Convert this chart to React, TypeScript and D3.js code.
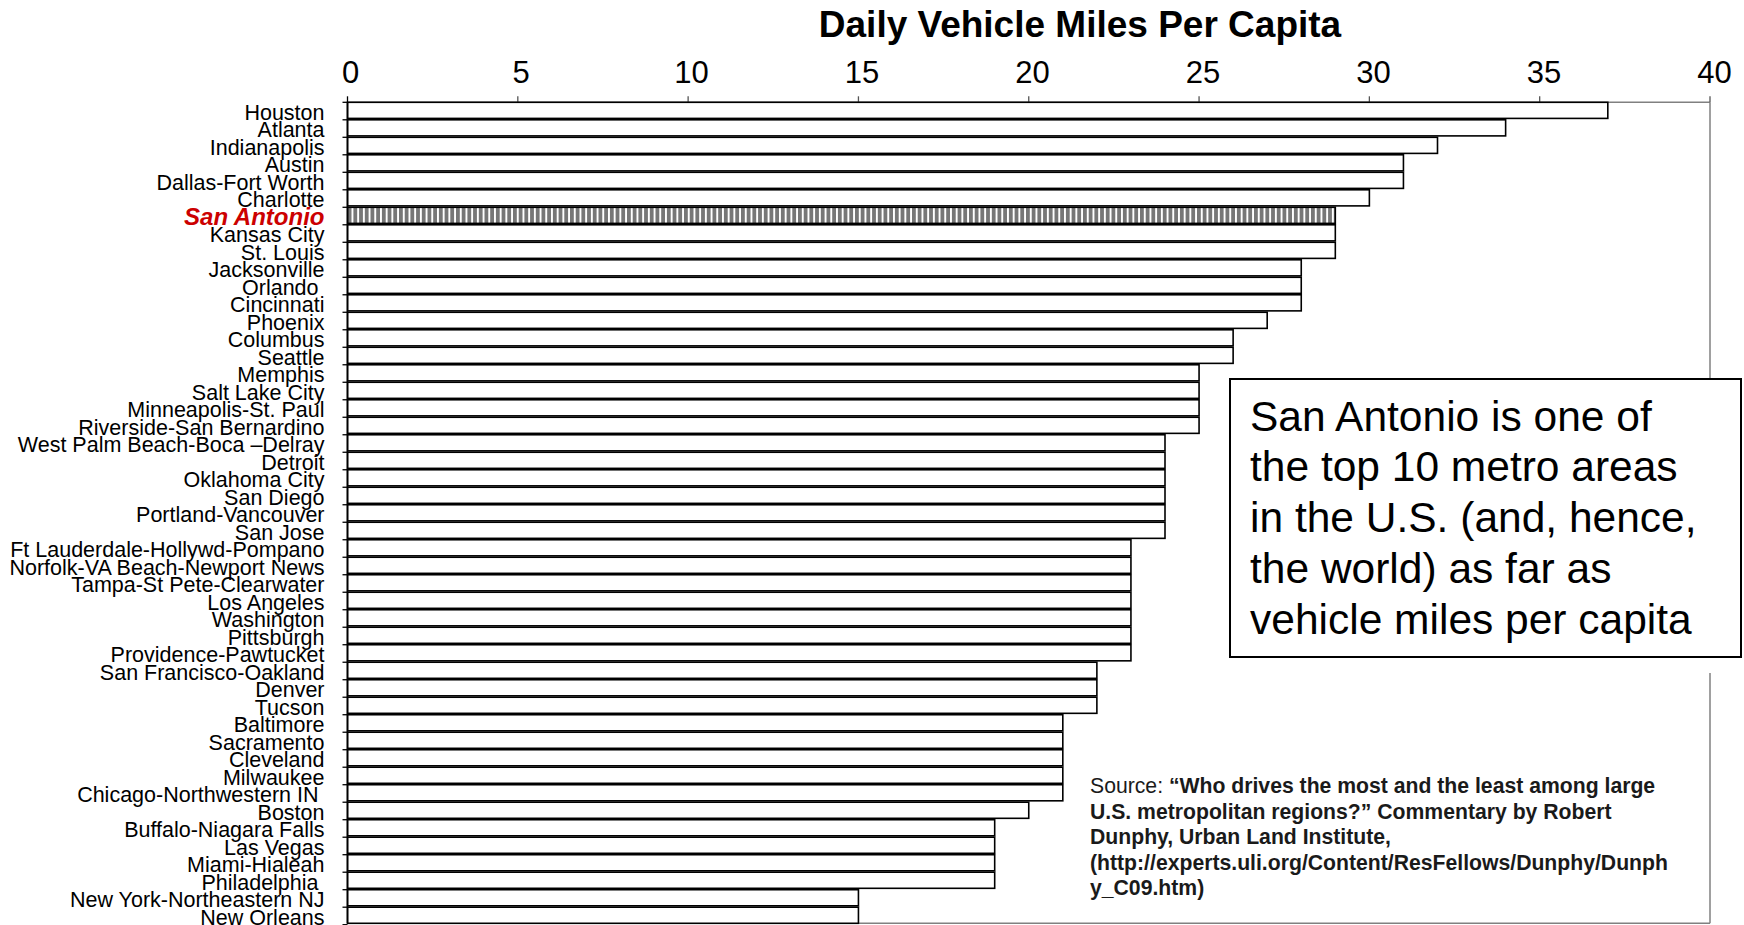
import React from "react";
import * as d3 from "d3";

const cities: string[] = [
  "Houston", "Atlanta", "Indianapolis", "Austin", "Dallas-Fort Worth", "Charlotte",
  "San Antonio", "Kansas City", "St. Louis", "Jacksonville", "Orlando ", "Cincinnati",
  "Phoenix", "Columbus", "Seattle", "Memphis", "Salt Lake City", "Minneapolis-St. Paul",
  "Riverside-San Bernardino", "West Palm Beach-Boca \u2013Delray", "Detroit", "Oklahoma City",
  "San Diego", "Portland-Vancouver", "San Jose", "Ft Lauderdale-Hollywd-Pompano",
  "Norfolk-VA Beach-Newport News", "Tampa-St Pete-Clearwater", "Los Angeles", "Washington",
  "Pittsburgh", "Providence-Pawtucket", "San Francisco-Oakland", "Denver", "Tucson",
  "Baltimore", "Sacramento", "Cleveland", "Milwaukee", "Chicago-Northwestern IN ", "Boston",
  "Buffalo-Niagara Falls", "Las Vegas", "Miami-Hialeah", "Philadelphia ",
  "New York-Northeastern NJ", "New Orleans",
];

const miles: number[] = [
  37, 34, 32, 31, 31, 30, 29, 29, 29, 28, 28, 28, 27, 26, 26, 25, 25, 25, 25,
  24, 24, 24, 24, 24, 24, 23, 23, 23, 23, 23, 23, 23, 22, 22, 22,
  21, 21, 21, 21, 21, 20, 19, 19, 19, 19, 15, 15,
];

const highlight = "San Antonio";
const xTicks: number[] = [0, 5, 10, 15, 20, 25, 30, 35, 40];
const title = "Daily Vehicle Miles Per Capita";
const noteLines: string[] = [
  "San Antonio is one of",
  "the top 10 metro areas",
  "in the U.S. (and, hence,",
  "the world) as far as",
  "vehicle miles per capita",
];
const sourceLines: { normal: string; bold: string }[] = [
  { normal: "Source: ", bold: "\u201cWho drives the most and the least among large" },
  { normal: "", bold: "U.S. metropolitan regions?\u201d Commentary by Robert" },
  { normal: "", bold: "Dunphy, Urban Land Institute," },
  { normal: "", bold: "(http://experts.uli.org/Content/ResFellows/Dunphy/Dunph" },
  { normal: "", bold: "y_C09.htm)" },
];

const W = 1744;
const H = 925;
const FONT = "'Liberation Sans', Arial, Helvetica, sans-serif";

export default function App() {
  const x = d3.scaleLinear().domain([0, 40]).range([347.5, 1710]);
  const xLabel = d3.scaleLinear().domain([0, 40]).range([350.5, 1714.5]);
  const y = d3
    .scaleBand<string>()
    .domain(cities)
    .range([102.3, 923.3])
    .paddingInner(0.08)
    .paddingOuter(0);
  const step = y.step();
  const top = 102.3;
  const bottom = 923.3;

  return (
    <svg
      width={W}
      height={H}
      style={{ position: "absolute", left: 0, top: 0, display: "block", background: "#fff" }}
      fontFamily={FONT}
    >
      <defs>
        <pattern id="vstripe" width={5.7} height={20} patternUnits="userSpaceOnUse">
          <rect width={5.7} height={20} fill="#fff" />
          <rect x={0} width={3.8} height={20} fill="#777" />
        </pattern>
      </defs>

      {/* title */}
      <text x={1080} y={37} textAnchor="middle" fontWeight="bold" fontSize={37} fill="#000">
        {title}
      </text>

      {/* plot frame */}
      <line x1={x(0)} x2={x(40)} y1={top} y2={top} stroke="#808080" strokeWidth={1.5} />
      <line x1={x(40)} x2={x(40)} y1={top} y2={bottom} stroke="#808080" strokeWidth={1.5} />
      <line x1={x(0)} x2={x(40)} y1={bottom} y2={bottom} stroke="#808080" strokeWidth={1.5} />

      {/* x ticks */}
      {xTicks.map((t) => (
        <g key={t}>
          <line x1={x(t)} x2={x(t)} y1={top - 6} y2={top} stroke={t === 0 ? "#000" : "#555"} strokeWidth={1.3} />
          <text x={xLabel(t)} y={82.5} textAnchor="middle" fontSize={31} fill="#000">
            {t}
          </text>
        </g>
      ))}

      {/* bars */}
      {cities.map((c, i) => (
        <rect
          key={c}
          x={x(0)}
          y={y(c)!}
          width={x(miles[i]) - x(0)}
          height={y.bandwidth()}
          fill={c === highlight ? "url(#vstripe)" : "#fff"}
          stroke="#000"
          strokeWidth={1.6}
        />
      ))}

      {/* y axis */}
      <line x1={x(0)} x2={x(0)} y1={top} y2={bottom} stroke="#000" strokeWidth={1.6} />
      {d3.range(cities.length + 1).map((k) => (
        <line
          key={k}
          x1={x(0) - 5}
          x2={x(0)}
          y1={top + k * step}
          y2={top + k * step}
          stroke="#000"
          strokeWidth={1.3}
        />
      ))}

      {/* category labels */}
      {cities.map((c) => {
        const hl = c === highlight;
        return (
          <text
            key={c}
            x={324.5}
            y={y(c)! + step}
            textAnchor="end"
            fontSize={hl ? 24 : 21.5}
            fontWeight={hl ? "bold" : "normal"}
            fontStyle={hl ? "italic" : "normal"}
            fill={hl ? "#cc0000" : "#000"}
            style={{ whiteSpace: "pre" }}
          >
            {c}
          </text>
        );
      })}

      {/* annotation box */}
      <rect x={1244} y={657} width={500} height={16} fill="#fff" stroke="none" />
      <rect x={1230} y={379} width={511} height={278} fill="#fff" stroke="#000" strokeWidth={2} />
      {noteLines.map((l, i) => (
        <text key={i} x={1250} y={430.5 + i * 50.8} fontSize={42.5} fill="#000">
          {l}
        </text>
      ))}

      {/* source */}
      {sourceLines.map((l, i) => (
        <text key={i} x={1090} y={793 + i * 25.6} fontSize={21.2} fill="#1a1a1a" style={{ whiteSpace: "pre" }}>
          {l.normal && <tspan>{l.normal}</tspan>}
          <tspan fontWeight="bold">{l.bold}</tspan>
        </text>
      ))}
    </svg>
  );
}
